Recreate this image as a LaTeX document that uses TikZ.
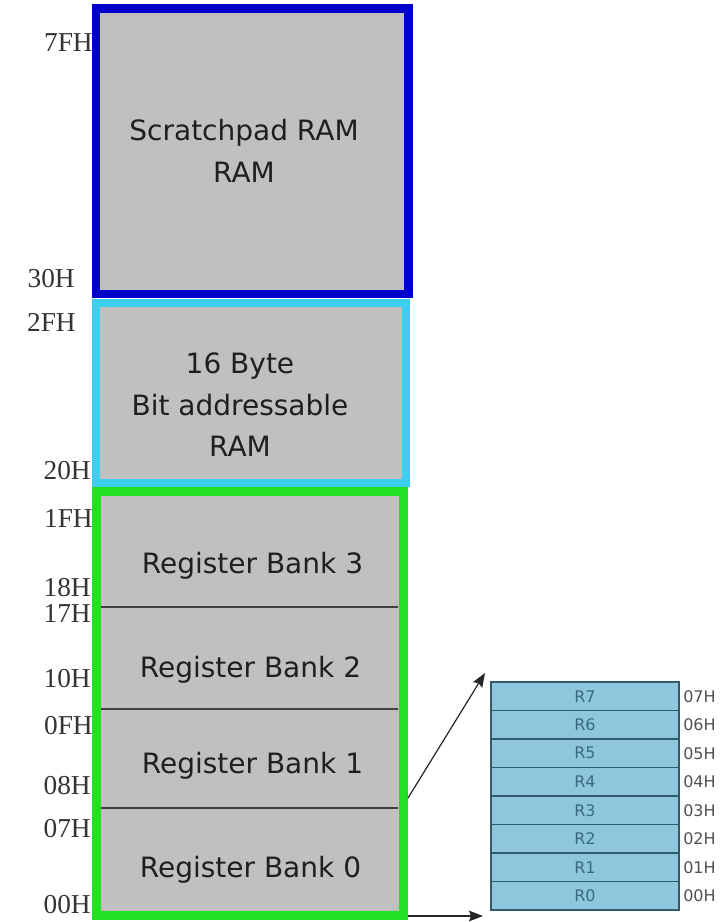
\documentclass[tikz,border=0pt]{standalone}
\usepackage{fontspec}
\setmainfont{Liberation Serif}
\setsansfont{DejaVu Sans}
\usetikzlibrary{arrows.meta}

\definecolor{memgray}{HTML}{C0C0C0}
\definecolor{scratchblue}{HTML}{0000C8}
\definecolor{bitcyan}{HTML}{3CCFF0}
\definecolor{bankgreen}{HTML}{22E022}
\definecolor{sepgray}{HTML}{404040}
\definecolor{addrgray}{HTML}{333333}
\definecolor{regfill}{HTML}{8EC7DB}
\definecolor{regline}{HTML}{2F5B6B}
\definecolor{regtext}{HTML}{3A6A80}
\definecolor{hexgray}{HTML}{505050}

\begin{document}
\begin{tikzpicture}[x=0.75pt,y=-0.75pt,
  region/.style={rectangle, fill=memgray, inner sep=0pt},
  areatext/.style={align=center, inner sep=0pt, text=black!88,
    font=\sffamily\fontsize{21}{31.1}\selectfont},
  addr/.style={anchor=east, inner sep=0pt, text=addrgray,
    font=\rmfamily\fontsize{20.5}{22}\selectfont},
  separator/.style={draw=sepgray, line width=1.5pt},
  regcell/.style={rectangle, fill=regfill, draw=regline, line width=1.2pt,
    minimum width=141pt, minimum height=21.375pt, inner sep=0pt,
    text=regtext, font=\sffamily\fontsize{12}{14}\selectfont},
  hexaddr/.style={anchor=west, inner sep=0pt, text=hexgray,
    font=\sffamily\fontsize{12}{14}\selectfont},
  zoomarrow/.style={draw=black!85, line width=0.9pt,
    -{Stealth[length=10.5pt,width=8pt,inset=1.5pt]}}
]
\useasboundingbox (0,0) rectangle (725,922);

% memory regions
\node[region, draw=scratchblue, line width=6.375pt,
      minimum width=234.375pt, minimum height=214.125pt] (scratch) at (252.25,151.25) {};
\node[region, draw=bitcyan, line width=6pt,
      minimum width=232.125pt, minimum height=135pt] (bitaddr) at (250.75,393) {};
\node[region, draw=bankgreen, line width=6.75pt,
      minimum width=230.25pt, minimum height=318pt] (banks) at (250,703.5) {};

% bank separators
\coordinate (s1l) at (101,607); \coordinate (s1r) at (398,607);
\coordinate (s2l) at (101,709); \coordinate (s2r) at (398,709);
\coordinate (s3l) at (101,808); \coordinate (s3r) at (398,808);
\draw[separator] (s1l) -- (s1r);
\draw[separator] (s2l) -- (s2r);
\draw[separator] (s3l) -- (s3r);

% region texts
\node[areatext] (scratchtxt) at (244,151) {Scratchpad RAM\\RAM};
\node[areatext] (bittxt) at (240,405) {16 Byte\\Bit addressable\\RAM};
\node[areatext, anchor=base] (bank3) at (252.5,573) {Register Bank 3};
\node[areatext, anchor=base] (bank2) at (250.5,677) {Register Bank 2};
\node[areatext, anchor=base] (bank1) at (252.5,773) {Register Bank 1};
\node[areatext, anchor=base] (bank0) at (250.5,877) {Register Bank 0};

% addresses on the left
\node[addr] (a7F) at (93,43)  {7FH};
\node[addr] (a30) at (75,279) {30H};
\node[addr] (a2F) at (76,322) {2FH};
\node[addr] (a20) at (91,471) {20H};
\node[addr] (a1F) at (93,518) {1FH};
\node[addr] (a18) at (91,588) {18H};
\node[addr] (a17) at (91,613) {17H};
\node[addr] (a10) at (91,679) {10H};
\node[addr] (a0F) at (93,726) {0FH};
\node[addr] (a08) at (91,786) {08H};
\node[addr] (a07) at (91,829) {07H};
\node[addr] (a00) at (91,905) {00H};

% registers of bank 0
\foreach \i/\n in {0/7,1/6,2/5,3/4,4/3,5/2,6/1,7/0}{
  \node[regcell] (r\n) at (585,{696.25+28.5*\i}) {R\n};
  \node[hexaddr] (h\n) at (683,{696.25+28.5*\i}) {0\n H};
}

% zoom arrows from bank 0 to its registers
\coordinate (bankzoomtop) at (408,798);
\coordinate (bankzoombot) at (408,916);
\coordinate (regtop) at (485,673);
\coordinate (regbot) at (483,916);
\draw[zoomarrow] (bankzoomtop) -- (regtop);
\draw[zoomarrow] (bankzoombot) -- (regbot);
\end{tikzpicture}
\end{document}
